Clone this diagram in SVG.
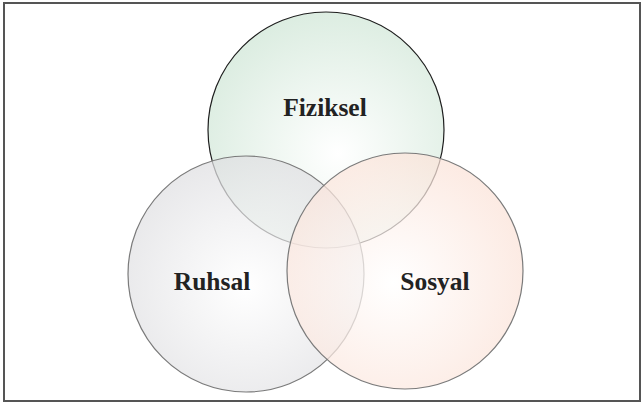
<svg xmlns="http://www.w3.org/2000/svg" width="641" height="405" viewBox="0 0 641 405">
  <defs>
    <radialGradient id="gFiz" cx="0.55" cy="0.6" r="0.6">
      <stop offset="0" stop-color="#ffffff"/>
      <stop offset="1" stop-color="#cfe6d6"/>
    </radialGradient>
    <radialGradient id="gRuh" cx="0.5" cy="0.55" r="0.6">
      <stop offset="0" stop-color="#ffffff"/>
      <stop offset="1" stop-color="#dcdcdf"/>
    </radialGradient>
    <radialGradient id="gSos" cx="0.45" cy="0.55" r="0.6">
      <stop offset="0" stop-color="#ffffff"/>
      <stop offset="1" stop-color="#fbe1d6"/>
    </radialGradient>
  </defs>
  <style>
    .frame { fill: #ffffff; stroke: #555555; stroke-width: 2; }
    .set { fill-opacity: 0.72; stroke-width: 1.2; }
    .label { font-family: "Liberation Serif", "Times New Roman", serif; font-weight: bold; font-size: 25.5px; fill: #222222; text-anchor: middle; }
  </style>

  <rect class="frame" x="4" y="3" width="636" height="398"/>

  <g id="fiziksel">
    <circle class="set" cx="326" cy="130" r="118" fill="url(#gFiz)" stroke="#1e1e1e"/>
  </g>
  <g id="ruhsal">
    <circle class="set" cx="246" cy="274" r="118" fill="url(#gRuh)" stroke="#7a7a7a"/>
  </g>
  <g id="sosyal">
    <circle class="set" cx="405" cy="271" r="118" fill="url(#gSos)" stroke="#7a7a7a"/>
  </g>

  <g id="labels">
    <text class="label" x="325" y="116">Fiziksel</text>
    <text class="label" x="212" y="290">Ruhsal</text>
    <text class="label" x="435" y="290">Sosyal</text>
  </g>
  <g id="connectors"/>
</svg>
